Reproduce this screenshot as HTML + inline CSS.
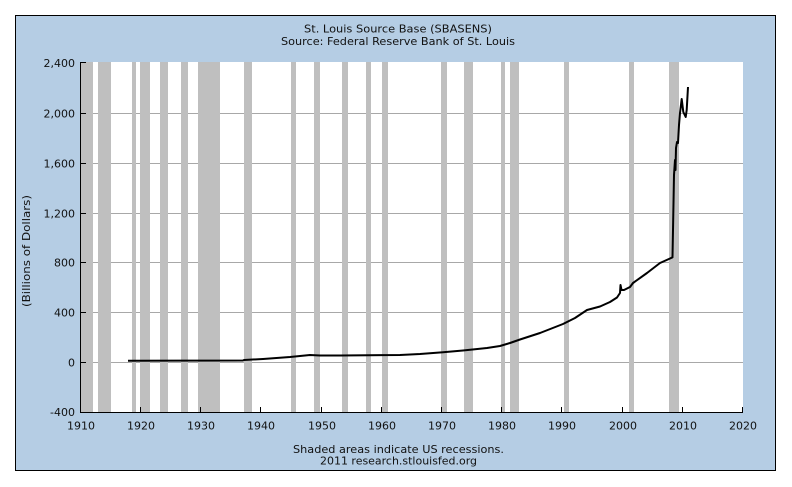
<!DOCTYPE html>
<html>
<head>
<meta charset="utf-8">
<style>
  html,body{margin:0;padding:0;background:#ffffff;}
  body{width:792px;height:487px;overflow:hidden;}
  svg{display:block;}
  text{font-family:"DejaVu Sans","Liberation Sans",sans-serif;font-size:11px;fill:#111;}
</style>
</head>
<body>
<svg width="792" height="487" viewBox="0 0 792 487" xmlns="http://www.w3.org/2000/svg">
  <!-- outer frame -->
  <rect x="15.5" y="15.5" width="760" height="455" fill="#b5cde4" stroke="#000" stroke-width="1"/>

  <!-- titles -->
  <text x="398" y="32.5" text-anchor="middle" textLength="188" lengthAdjust="spacingAndGlyphs">St. Louis Source Base (SBASENS)</text>
  <text x="398" y="45" text-anchor="middle" textLength="234" lengthAdjust="spacingAndGlyphs">Source: Federal Reserve Bank of St. Louis</text>

  <!-- plot area -->
  <rect x="80" y="62" width="663" height="350" fill="#ffffff"/>

  <!-- gridlines -->
  <g stroke="#a8a8a8" stroke-width="1">
    <line x1="80" y1="113.5" x2="743" y2="113.5"/>
    <line x1="80" y1="163.5" x2="743" y2="163.5"/>
    <line x1="80" y1="213.5" x2="743" y2="213.5"/>
    <line x1="80" y1="262.5" x2="743" y2="262.5"/>
    <line x1="80" y1="312.5" x2="743" y2="312.5"/>
    <line x1="80" y1="362.5" x2="743" y2="362.5"/>
  </g>

  <!-- recession bars -->
  <g fill="#bfbfbf">
    <rect x="81" y="62" width="12" height="350"/>
    <rect x="98" y="62" width="13" height="350"/>
    <rect x="132" y="62" width="4" height="350"/>
    <rect x="140" y="62" width="10" height="350"/>
    <rect x="160" y="62" width="8" height="350"/>
    <rect x="181" y="62" width="7" height="350"/>
    <rect x="198" y="62" width="22" height="350"/>
    <rect x="244" y="62" width="8" height="350"/>
    <rect x="291" y="62" width="5" height="350"/>
    <rect x="314" y="62" width="6" height="350"/>
    <rect x="342" y="62" width="6" height="350"/>
    <rect x="366" y="62" width="5" height="350"/>
    <rect x="382" y="62" width="6" height="350"/>
    <rect x="441" y="62" width="6" height="350"/>
    <rect x="464" y="62" width="9" height="350"/>
    <rect x="501" y="62" width="4" height="350"/>
    <rect x="510" y="62" width="9" height="350"/>
    <rect x="564" y="62" width="5" height="350"/>
    <rect x="629" y="62" width="5" height="350"/>
    <rect x="669" y="62" width="10" height="350"/>
  </g>

  <!-- axes -->
  <line x1="80.5" y1="62" x2="80.5" y2="413" stroke="#000" stroke-width="1"/>
  <line x1="80" y1="412.5" x2="743" y2="412.5" stroke="#000" stroke-width="1"/>

  <!-- y ticks -->
  <g stroke="#000" stroke-width="1">
    <line x1="80" y1="62.5" x2="86" y2="62.5"/>
    <line x1="80" y1="113.5" x2="86" y2="113.5"/>
    <line x1="80" y1="163.5" x2="86" y2="163.5"/>
    <line x1="80" y1="213.5" x2="86" y2="213.5"/>
    <line x1="80" y1="262.5" x2="86" y2="262.5"/>
    <line x1="80" y1="312.5" x2="86" y2="312.5"/>
    <line x1="80" y1="362.5" x2="86" y2="362.5"/>
  </g>

  <!-- x ticks -->
  <g stroke="#000" stroke-width="1">
    <line x1="140.5" y1="407" x2="140.5" y2="412"/>
    <line x1="200.5" y1="407" x2="200.5" y2="412"/>
    <line x1="260.5" y1="407" x2="260.5" y2="412"/>
    <line x1="321.5" y1="407" x2="321.5" y2="412"/>
    <line x1="381.5" y1="407" x2="381.5" y2="412"/>
    <line x1="441.5" y1="407" x2="441.5" y2="412"/>
    <line x1="501.5" y1="407" x2="501.5" y2="412"/>
    <line x1="561.5" y1="407" x2="561.5" y2="412"/>
    <line x1="622.5" y1="407" x2="622.5" y2="412"/>
    <line x1="682.5" y1="407" x2="682.5" y2="412"/>
    <line x1="742.5" y1="407" x2="742.5" y2="412"/>
  </g>

  <!-- data line -->
  <polyline fill="none" stroke="#000" stroke-width="2" stroke-linejoin="round"
    points="128,360.7 243,360.5 244,360 263,359 290,357 300,356 310,355 320,355.5 340,355.5 400,355 420,354 443,352.3 463,350.5 487,348 500,346 510,343 520,339.5 540,333 563,324 575,318 587,310 600,306.5 610,302 617,297.5 620,293 620.5,285 621.5,290 624,290 630,287 633,283 647,273 660,263 670,258.5 672.5,257.3 673.5,203 674,175 675,160 675.5,170 676,148 677,142 678,143 679,125 680,113 681.7,99 683.3,112 685.7,117 686.7,110 688,87"/>

  <!-- y labels -->
  <g text-anchor="end">
    <text x="75" y="67">2,400</text>
    <text x="75" y="117.5">2,000</text>
    <text x="75" y="167.5">1,600</text>
    <text x="75" y="217.5">1,200</text>
    <text x="75" y="266.5">800</text>
    <text x="75" y="316.5">400</text>
    <text x="75" y="366.5">0</text>
    <text x="75" y="416">-400</text>
  </g>

  <!-- x labels -->
  <g text-anchor="middle">
    <text x="81" y="429.5">1910</text>
    <text x="141" y="429.5">1920</text>
    <text x="201" y="429.5">1930</text>
    <text x="261" y="429.5">1940</text>
    <text x="322" y="429.5">1950</text>
    <text x="382" y="429.5">1960</text>
    <text x="442" y="429.5">1970</text>
    <text x="502" y="429.5">1980</text>
    <text x="562" y="429.5">1990</text>
    <text x="623" y="429.5">2000</text>
    <text x="683" y="429.5">2010</text>
    <text x="743" y="429.5">2020</text>
  </g>

  <!-- y axis title -->
  <text transform="translate(30,251) rotate(-90)" text-anchor="middle" textLength="112" lengthAdjust="spacingAndGlyphs">(Billions of Dollars)</text>

  <!-- footer -->
  <text x="398.5" y="453" text-anchor="middle" textLength="211" lengthAdjust="spacingAndGlyphs">Shaded areas indicate US recessions.</text>
  <text x="398.5" y="464.5" text-anchor="middle" textLength="157" lengthAdjust="spacingAndGlyphs">2011 research.stlouisfed.org</text>
</svg>
</body>
</html>
